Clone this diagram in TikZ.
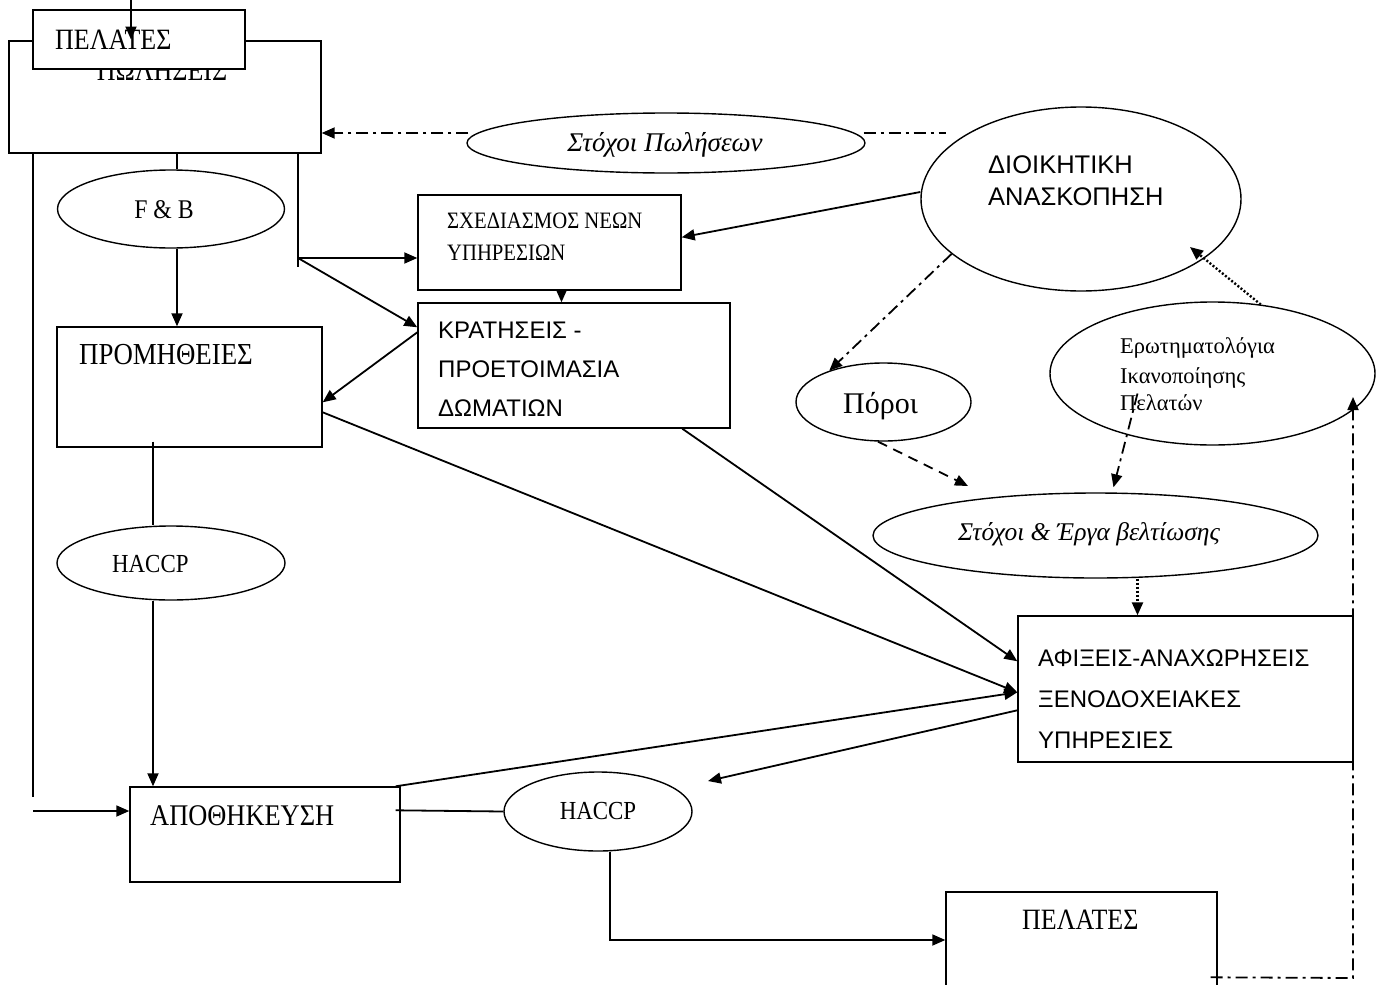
\documentclass[tikz,border=0pt]{standalone}
\usepackage{fontspec}
\setmainfont{Liberation Serif}
\newfontfamily\capserif[FakeStretch=0.88]{Liberation Serif}
\newfontfamily\arialfont{Liberation Sans}
\usetikzlibrary{arrows.meta,calc,shapes.geometric}

\begin{document}
\begin{tikzpicture}[x=1pt,y=-1pt,
  >={Triangle[length=13pt,width=11pt]},
  box/.style={draw,line width=1.4pt,rectangle,inner sep=0pt},
  oval/.style={draw,line width=1.4pt,ellipse,inner sep=0pt},
  txt/.style={anchor=base west,inner sep=0pt},
  cambria/.style={font=\fontsize{#1}{#1}\selectfont},
  capstxt/.style={font=\capserif\fontsize{#1}{#1}\selectfont},
  cambriait/.style={font=\itshape\fontsize{#1}{#1}\selectfont},
  arialtxt/.style={font=\arialfont\fontsize{#1}{#1}\selectfont},
  link/.style={line width=1.8pt},
  dashdot/.style={line width=1.8pt,dash pattern=on 12pt off 5pt on 3pt off 5pt},
  dashline/.style={line width=1.8pt,dash pattern=on 10pt off 7pt},
  dotline/.style={line width=2.4pt,dash pattern=on 2pt off 2pt},
]
\fill[white] (0,0) rectangle (1376,985);
\useasboundingbox (0,0) rectangle (1376,985);
\clip (0,0) rectangle (1376,985);

% ---- sales block with the customers box laid over it
\node[box,minimum width=312pt,minimum height=112pt] (sales) at (165,97) {};
\node[txt,capstxt=29.5,anchor=base] (salestxt) at (162,80) {ΠΩΛΗΣΕΙΣ};
\node[box,fill=white,minimum width=212pt,minimum height=59pt] (custtop) at (139,39.5) {};
\node[txt,capstxt=29.5] (custtoptxt) at (55,49) {ΠΕΛΑΤΕΣ};

% ---- left column
\node[oval,minimum width=227pt,minimum height=78pt] (fb) at (171,209) {};
\node[txt,capstxt=27,anchor=base] (fbtxt) at (164,218) {F \& B};
\node[box,minimum width=265pt,minimum height=120pt] (supply) at (189.5,387) {};
\node[txt,capstxt=30.5] (supplytxt) at (79,364) {ΠΡΟΜΗΘΕΙΕΣ};
\node[oval,minimum width=228pt,minimum height=74pt] (haccpA) at (171,563) {};
\node[txt,capstxt=26] (haccpAtxt) at (112,572) {HACCP};
\node[box,minimum width=270pt,minimum height=95pt] (store) at (265,834.5) {};
\node[txt,capstxt=30] (storetxt) at (150,825) {ΑΠΟΘΗΚΕΥΣΗ};
\node[oval,minimum width=188pt,minimum height=79pt] (haccpB) at (598,811.5) {};
\node[txt,capstxt=26,anchor=base] (haccpBtxt) at (598,819) {HACCP};

% ---- middle boxes
\node[box,minimum width=263pt,minimum height=95pt] (design) at (549.5,242.5) {};
\node[txt,capstxt=23.5] (designtxtA) at (447,228) {ΣΧΕΔΙΑΣΜΟΣ ΝΕΩΝ};
\node[txt,capstxt=23.5] (designtxtB) at (447,260) {ΥΠΗΡΕΣΙΩΝ};
\node[box,minimum width=312pt,minimum height=125pt] (book) at (574,365.5) {};
\node[txt,arialtxt=24] (booktxtA) at (438,338) {ΚΡΑΤΗΣΕΙΣ -};
\node[txt,arialtxt=24] (booktxtB) at (438,377) {ΠΡΟΕΤΟΙΜΑΣΙΑ};
\node[txt,arialtxt=24] (booktxtC) at (438,416) {ΔΩΜΑΤΙΩΝ};

% ---- right side
\node[oval,minimum width=398pt,minimum height=60pt] (goalsales) at (666,143) {};
\node[txt,cambriait=27,anchor=base] (goalsalestxt) at (665,151) {Στόχοι Πωλήσεων};
\node[oval,minimum width=320pt,minimum height=184pt] (mgmt) at (1081,199) {};
\node[txt,arialtxt=25.5] (mgmttxtA) at (988,173) {ΔΙΟΙΚΗΤΙΚΗ};
\node[txt,arialtxt=25.5] (mgmttxtB) at (988,205) {ΑΝΑΣΚΟΠΗΣΗ};
\node[oval,minimum width=175pt,minimum height=78pt] (poroi) at (883.5,402) {};
\node[txt,cambria=30] (poroitxt) at (843,413) {Πόροι};
\node[oval,minimum width=325pt,minimum height=143pt] (survey) at (1212.5,373.5) {};
\node[txt,cambria=22.5] (surveytxtA) at (1120,353) {Ερωτηματολόγια};
\node[txt,cambria=22.5] (surveytxtB) at (1120,383) {Ικανοποίησης};
\node[txt,cambria=22.5] (surveytxtC) at (1120,410) {Πελατών};
\node[oval,minimum width=445pt,minimum height=85pt] (improve) at (1095.5,535.5) {};
\node[txt,cambriait=25.5] (improvetxt) at (958,540) {Στόχοι \& Έργα βελτίωσης};
\node[box,minimum width=335pt,minimum height=146pt] (arr) at (1185.5,689) {};
\node[txt,arialtxt=24] (arrtxtA) at (1038,666) {ΑΦΙΞΕΙΣ-ΑΝΑΧΩΡΗΣΕΙΣ};
\node[txt,arialtxt=24] (arrtxtB) at (1038,707) {ΞΕΝΟΔΟΧΕΙΑΚΕΣ};
\node[txt,arialtxt=24] (arrtxtC) at (1038,748) {ΥΠΗΡΕΣΙΕΣ};
\node[box,minimum width=271pt,minimum height=116pt] (custbot) at (1081.5,950) {};
\node[txt,capstxt=29.5] (custbottxt) at (1022,929) {ΠΕΛΑΤΕΣ};

% ---- free ends and junctions
\coordinate (topin) at (131,0);
\coordinate (leftdrop) at (33,797);
\coordinate (leftin) at (33,811);
\coordinate (fbcol) at (177,0);
\coordinate (fork) at (298,258);
\coordinate (forkend) at (298,267);
\coordinate (hcol) at (153,0);
\coordinate (bend) at (610,940);
\coordinate (tipB) at (708,781);
\coordinate (loopcorner) at (1353,978);
\coordinate (svin) at (1353,397);
\coordinate (mgmtL) at (946,133);
\coordinate (impA) at (968,486);

% ---- solid flow
\draw[link,->] (topin) -- (topin |- custtop.center);
\draw[link] (leftdrop |- sales.south) -- (leftdrop);
\draw[link,->] (leftin) -- (leftin -| store.west);
\draw[link] (fbcol |- sales.south) -- (fbcol |- fb.north);
\draw[link,->] (fbcol |- fb.south) -- (fbcol |- supply.north);
\draw[link] (fork |- sales.south) -- (forkend);
\draw[link,->] (fork) -- (fork -| design.west);
\draw[link,->] (fork) -- ($(book.north west)+(0,25)$);
\draw[link,->] ($(design.south)+(12,0)$) coordinate (dsx) -- (dsx |- book.north);
\draw[link,->] ($(book.north west)+(0,30)$) -- ($(supply.north east)+(0,76)$);
\draw[link,->] ($(supply.north east)+(0,86)$) -- ($(arr.north west)+(0,77)$);
\draw[link,->] ($(book.south west)+(265,0)$) -- ($(arr.north west)+(0,46)$);
\draw[link,->] ($(store.north east)+(-5,0)$) -- ($(arr.north west)+(0,77)$);
\draw[link,->] ($(arr.north west)+(0,95)$) -- (tipB);
\draw[link] ($(hcol |- supply.south)+(0,-6)$) -- (hcol |- haccpA.north);
\draw[link,->] (hcol |- haccpA.south) -- (hcol |- store.north);
\draw[link] ($(store.north east)+(-5,24)$) -- (haccpB.west);
\draw[link,->] (bend |- haccpB.south) -- (bend) -- (bend -| custbot.west);
\draw[link,->] ($(mgmt.west)+(0,-7)$) -- ($(design.north east)+(0,43)$);

% ---- dash-dot, dashed and dotted links
\draw[dashdot,->] ($(goalsales.west)+(2,-10)$) coordinate (gsl) -- (gsl -| sales.east);
\draw[dashdot] ($(goalsales.east)+(-2,-10)$) -- (mgmtL);
\draw[dashdot,->] (mgmt.203) -- (poroi.150);
\draw[dashline,->] (poroi.262) -- (impA);
\draw[dashdot,->] ($(survey.center)+(-75,20)$) -- ($(improve.north)+(18,-5)$);
\draw[dotline,->] (survey.55) -- ($(mgmt.center)+(109,48)$);
\draw[dotline,->] ($(improve.south)+(42,0)$) coordinate (imps) -- (imps |- arr.north);
\draw[dashdot,->] ($(custbot.north east)+(-7,86)$) -- (loopcorner) -- (svin);
\end{tikzpicture}
\end{document}
